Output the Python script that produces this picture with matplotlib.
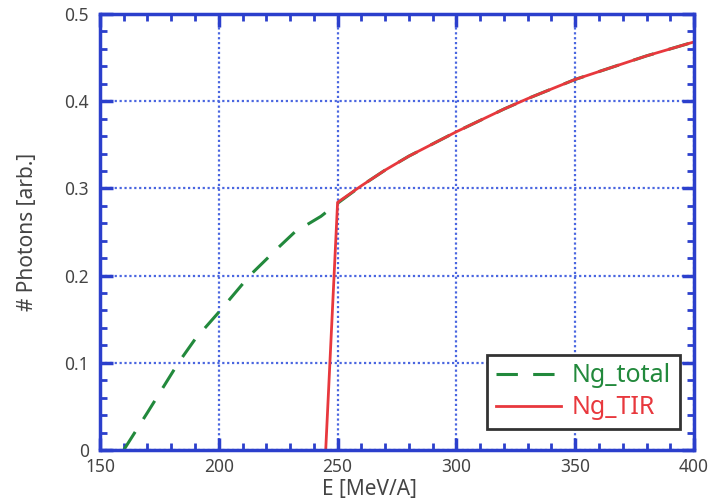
import matplotlib.pyplot as plt
from matplotlib.ticker import MultipleLocator

# photon yield vs beam energy
e_total = [160, 170, 183, 190, 200, 213, 225, 232, 243, 250, 260, 270, 280, 290, 300, 310, 320, 330,
           340, 350, 360, 370, 380, 390, 400]
ng_total = [0.0, 0.043, 0.1, 0.127, 0.158, 0.2, 0.232, 0.25, 0.268, 0.283, 0.303, 0.321, 0.337, 0.351,
            0.365, 0.378, 0.391, 0.403, 0.414, 0.425, 0.434, 0.443, 0.452, 0.460, 0.468]

e_tir = [245, 250, 260, 270, 280, 290, 300, 310, 320, 330, 340, 350, 360, 370, 380, 390, 400]
ng_tir = [0.0, 0.284, 0.303, 0.321, 0.337, 0.351, 0.365, 0.378, 0.391, 0.403, 0.414, 0.425, 0.434,
          0.443, 0.452, 0.460, 0.468]

blue = '#2b3fcc'
grey = '#444444'
green = '#22893c'
red = '#e8383d'

plt.rcParams['font.family'] = ['Noto Sans', 'DejaVu Sans']

fig = plt.figure(figsize=(7.1, 5.01), dpi=100)
ax = fig.add_axes([0.1408, 0.1018, 0.8367, 0.8702])

ax.plot(e_total, ng_total, color=green, lw=2.2, dashes=(7, 5), label='Ng_total')
ax.plot(e_tir, ng_tir, color=red, lw=2.0, label='Ng_TIR')

ax.set_xlim(150, 400)
ax.set_ylim(0, 0.5)
ax.xaxis.set_major_locator(MultipleLocator(50))
ax.xaxis.set_minor_locator(MultipleLocator(10))
ax.yaxis.set_minor_locator(MultipleLocator(0.02))
ax.set_yticks([0, 0.1, 0.2, 0.3, 0.4, 0.5])
ax.set_yticklabels(['0', '0.1', '0.2', '0.3', '0.4', '0.5'])

ax.grid(True, which='major', color='#4a66e0', linestyle=(0, (1, 1.2)), lw=1.6)
for s in ax.spines.values():
    s.set_color(blue)
    s.set_linewidth(2.5)
ax.tick_params(which='both', direction='in', top=True, right=True, color=blue,
               labelcolor=grey, labelsize=12.5)
ax.tick_params(axis='x', pad=6)
ax.tick_params(axis='y', pad=8)
ax.tick_params(which='major', length=9, width=2.5)
ax.tick_params(which='minor', length=5, width=2)

ax.set_xlabel('E [MeV/A]', fontsize=15, color=grey)
ax.set_ylabel('# Photons [arb.]', fontsize=15, color=grey)
ax.xaxis.set_label_coords(0.453, -0.066)
ax.yaxis.set_label_coords(-0.104, 0.5)

leg = ax.legend(loc='lower right', bbox_to_anchor=(0.976, 0.048), fontsize=18,
                fancybox=False, framealpha=1, edgecolor='#333333', borderaxespad=0,
                handlelength=2.6, borderpad=0.35, labelspacing=0.28, handletextpad=0.45)
leg.get_frame().set_linewidth(2)
for txt, c in zip(leg.get_texts(), [green, red]):
    txt.set_color(c)

fig.savefig('out.png', dpi=100)
